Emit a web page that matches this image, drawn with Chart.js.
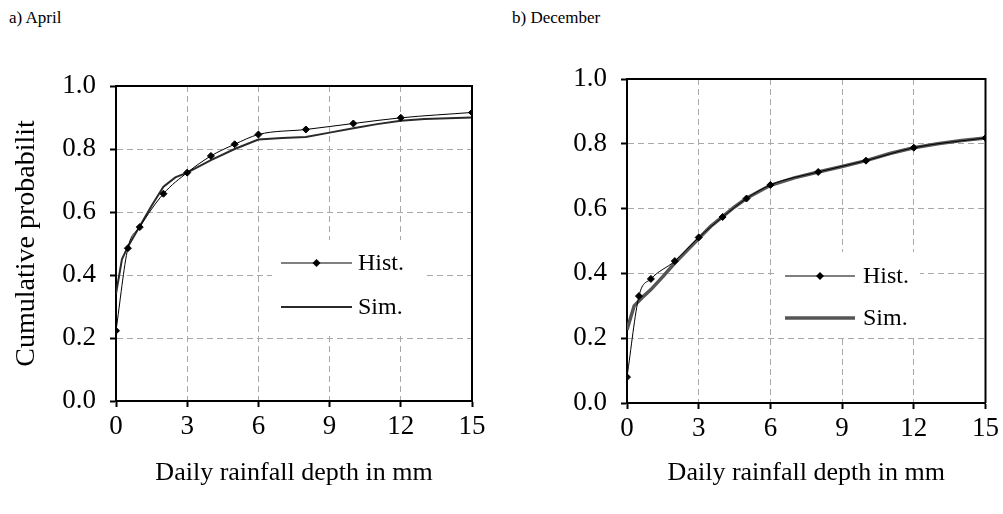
<!DOCTYPE html>
<html>
<head>
<meta charset="utf-8">
<script src="https://cdn.jsdelivr.net/npm/chart.js@4.4.0/dist/chart.umd.min.js"></script>
<style>
  body { margin: 0; background: #fff; width: 1003px; height: 514px; overflow: hidden; position: relative; font-family: 'Liberation Serif', 'Times New Roman', serif; }
  .cap { position: absolute; top: 8px; font-size: 17px; color: #000; }
  canvas { position: absolute; top: 0; }
</style>
</head>
<body>
<div class="cap" style="left:9px">a) April</div>
<div class="cap" style="left:512px">b) December</div>
<canvas id="aprChart" width="500" height="514" style="left:0"></canvas>
<canvas id="decChart" width="503" height="514" style="left:500px"></canvas>
<script>
// axes
const xTicks = [0, 3, 6, 9, 12, 15];
const yTicks = [0, 0.2, 0.4, 0.6, 0.8, 1.0];
const seriesNames = ['Hist.', 'Sim.'];

// a) April
const aprHistX = [0, 0.5, 1, 2, 3, 4, 5, 6, 8, 10, 12, 15];
const aprHistY = [0.223, 0.485, 0.552, 0.658, 0.725, 0.778, 0.815, 0.846, 0.862, 0.881, 0.899, 0.916];
const aprSimX = [0, 0.25, 0.5, 1, 1.5, 2, 2.5, 3, 4, 5, 6, 7, 8, 9, 10, 11, 12, 13, 14, 15];
const aprSimY = [0.34, 0.45, 0.49, 0.555, 0.62, 0.68, 0.71, 0.725, 0.765, 0.8, 0.83, 0.835, 0.838, 0.852, 0.866, 0.879, 0.89, 0.895, 0.898, 0.9];

// b) December
const decHistX = [0, 0.5, 1, 2, 3, 4, 5, 6, 8, 10, 12, 15];
const decHistY = [0.08, 0.33, 0.383, 0.438, 0.511, 0.574, 0.631, 0.673, 0.713, 0.748, 0.788, 0.818];
const decSimX = [0, 0.3, 0.7, 1, 1.5, 2, 2.5, 3, 3.5, 4, 4.5, 5, 6, 7, 8, 9, 10, 11, 12, 13, 14, 15];
const decSimY = [0.226, 0.3, 0.33, 0.35, 0.39, 0.432, 0.47, 0.508, 0.545, 0.575, 0.605, 0.632, 0.672, 0.695, 0.713, 0.73, 0.748, 0.77, 0.788, 0.8, 0.81, 0.818];

const serif = "'Liberation Serif', 'Times New Roman', serif";
const pts = (xs, ys) => xs.map((x, i) => ({ x: x, y: ys[i] }));

// top + right edge of the plot box
const framePlugin = {
    id: 'frame',
    afterDraw(chart) {
        const a = chart.chartArea, c = chart.ctx;
        c.save();
        c.strokeStyle = '#000';
        c.lineWidth = 2;
        c.beginPath();
        c.moveTo(a.left, a.top);
        c.lineTo(a.right, a.top);
        c.lineTo(a.right, a.bottom);
        c.stroke();
        c.restore();
    }
};

// legend sitting inside the plot, on a white patch
const boxLegend = {
    id: 'boxLegend',
    afterDatasetsDraw(chart, args, o) {
        const c = chart.ctx;
        c.save();
        c.fillStyle = '#fff';
        c.fillRect(o.box[0], o.box[1], o.box[2], o.box[3]);
        chart.data.datasets.forEach((ds, i) => {
            const y = o.y[i];
            c.strokeStyle = ds.borderColor;
            c.lineWidth = ds.borderWidth;
            c.beginPath();
            c.moveTo(o.x0, y);
            c.lineTo(o.x1, y);
            c.stroke();
            if (ds.pointRadius > 0) {
                c.fillStyle = '#000';
                const m = (o.x0 + o.x1) / 2, r = 4;
                c.beginPath();
                c.moveTo(m, y - r); c.lineTo(m + r, y); c.lineTo(m, y + r); c.lineTo(m - r, y);
                c.closePath();
                c.fill();
            }
            c.fillStyle = '#000';
            c.font = '24px ' + serif;
            c.textBaseline = 'middle';
            c.fillText(ds.label, o.tx, y + 1);
        });
        c.restore();
    }
};

function makeChart(id, hx, hy, sx, sy, simColor, simWidth, yTitle, pad, yWidth, xHeight, legendOpts) {
    return new Chart(document.getElementById(id).getContext('2d'), {
        type: 'line',
        data: {
            datasets: [{
                label: seriesNames[0],
                data: pts(hx, hy),
                borderColor: '#000',
                borderWidth: 1,
                pointStyle: 'rectRot',
                pointRadius: 3.5,
                pointBackgroundColor: '#000',
                pointBorderColor: '#000',
                cubicInterpolationMode: 'monotone'
            }, {
                label: seriesNames[1],
                data: pts(sx, sy),
                borderColor: simColor,
                borderWidth: simWidth,
                pointRadius: 0,
                tension: 0
            }]
        },
        options: {
            responsive: false,
            animation: false,
            layout: { padding: pad },
            plugins: {
                legend: { display: false },
                tooltip: { enabled: false },
                boxLegend: legendOpts
            },
            scales: {
                x: {
                    type: 'linear',
                    min: 0,
                    max: 15,
                    afterBuildTicks: s => { s.ticks = xTicks.map(v => ({ value: v })); },
                    afterFit: s => { s.height = xHeight; },
                    grid: { color: '#a8a8a8', lineWidth: 1, tickLength: 6, tickColor: '#000', tickWidth: 2, tickBorderDash: [] },
                    border: { color: '#000', width: 2, dash: [6, 4] },
                    ticks: { color: '#000', font: { family: serif, size: 27 }, padding: 4, maxRotation: 0 },
                    title: { display: true, text: 'Daily rainfall depth in mm', color: '#000', font: { family: serif, size: 26 }, padding: { bottom: 25 } }
                },
                y: {
                    min: 0,
                    max: 1,
                    afterBuildTicks: s => { s.ticks = yTicks.map(v => ({ value: v })); },
                    afterFit: s => { s.width = yWidth; },
                    grid: { color: '#a8a8a8', lineWidth: 1, tickLength: 6, tickColor: '#000', tickWidth: 2, tickBorderDash: [] },
                    border: { color: '#000', width: 2, dash: [6, 4] },
                    ticks: { color: '#000', font: { family: serif, size: 27 }, padding: 14, callback: v => v.toFixed(1) },
                    title: { display: !!yTitle, text: yTitle, color: '#000', font: { family: serif, size: 28 }, padding: { top: 10 } }
                }
            }
        },
        plugins: [framePlugin, boxLegend]
    });
}

const aprChart = makeChart('aprChart', aprHistX, aprHistY, aprSimX, aprSimY, '#2a2a2a', 2,
    'Cumulative probabilit', { top: 86, right: 28, left: 0, bottom: 0 }, 116, 113,
    { box: [272, 240, 151, 92], x0: 281, x1: 352, tx: 358, y: [263, 307] });

const decChart = makeChart('decChart', decHistX, decHistY, decSimX, decSimY, '#555', 3.5,
    '', { top: 79, right: 15, left: 0, bottom: 0 }, 127, 111,
    { box: [277, 252, 143, 84], x0: 285, x1: 355, tx: 363, y: [276, 318] });
</script>
</body>
</html>
